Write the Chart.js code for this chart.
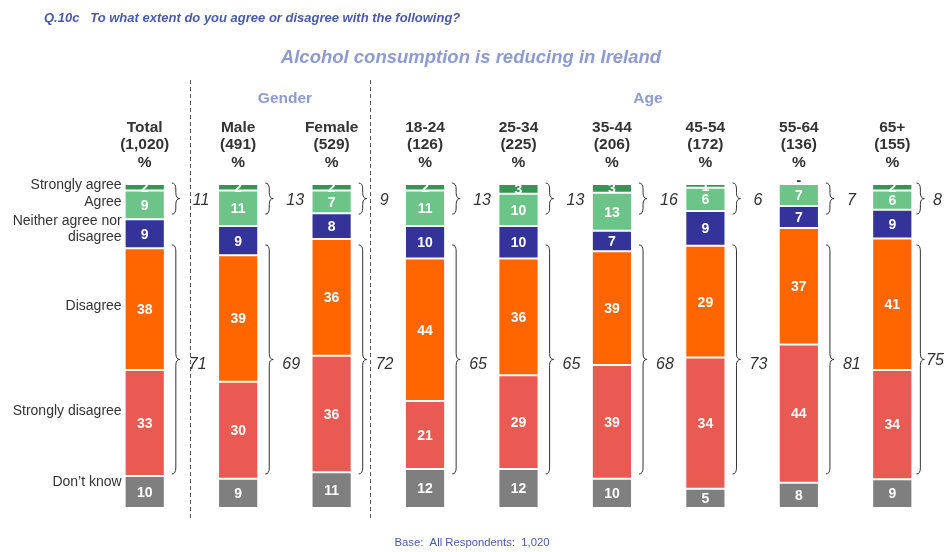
<!DOCTYPE html>
<html>
<head>
<meta charset="utf-8">
<script src="https://cdn.jsdelivr.net/npm/chart.js@4/dist/chart.umd.min.js"></script>
<style>
  html, body { margin: 0; padding: 0; background: #fff; }
  #wrap { width: 948px; height: 552px; position: relative; }
</style>
</head>
<body>
<div id="wrap"><canvas id="chart" width="948" height="552"></canvas></div>
<script>
// ===== DATA =====
const categories = ['Total', 'Male', 'Female', '18-24', '25-34', '35-44', '45-54', '55-64', '65+'];
const bases = ['(1,020)', '(491)', '(529)', '(126)', '(225)', '(206)', '(172)', '(136)', '(155)'];

const stronglyAgree    = [2, 2, 2, 2, 3, 3, 1, 0, 2];
const agree            = [9, 11, 7, 11, 10, 13, 6, 7, 6];
const neither          = [9, 9, 8, 10, 10, 7, 9, 7, 9];
const disagree         = [38, 39, 36, 44, 36, 39, 29, 37, 41];
const stronglyDisagree = [33, 30, 36, 21, 29, 39, 34, 44, 34];
const dontKnow         = [10, 9, 11, 12, 12, 10, 5, 8, 9];

const agreeNet    = [11, 13, 9, 13, 13, 16, 6, 7, 8];
const disagreeNet = [71, 69, 72, 65, 65, 68, 73, 81, 75];

const rowLabels = ['Don\u2019t know', 'Strongly disagree', 'Disagree', 'Neither agree nor\ndisagree', 'Agree', 'Strongly agree'];

const FONT = '"Liberation Sans", Arial, sans-serif';
const TEXT = '#333333';

// bars are drawn as 100% stacks, labels keep the raw figures
const series = [dontKnow, stronglyDisagree, disagree, neither, agree, stronglyAgree];
const totals = categories.map((_, i) => series.reduce((s, arr) => s + arr[i], 0));
const share = arr => arr.map((v, i) => v / totals[i] * 100);

const colors = ['#7f7f7f', '#e85a52', '#ff6600', '#333399', '#6cc489', '#3a9355'];

// ===== PLUGINS =====
function brace(ctx, x, y0, y1, w) {
  const mid = (y0 + y1) / 2;
  const r = Math.min(6, (y1 - y0) / 4);
  ctx.beginPath();
  ctx.moveTo(x, y0);
  ctx.quadraticCurveTo(x + w / 2, y0, x + w / 2, y0 + r);
  ctx.lineTo(x + w / 2, mid - r);
  ctx.quadraticCurveTo(x + w / 2, mid, x + w, mid);
  ctx.quadraticCurveTo(x + w / 2, mid, x + w / 2, mid + r);
  ctx.lineTo(x + w / 2, y1 - r);
  ctx.quadraticCurveTo(x + w / 2, y1, x, y1);
  ctx.stroke();
}

const decor = {
  id: 'decor',
  afterDatasetsDraw(chart) {
    const ctx = chart.ctx;
    const y = chart.scales.y;
    const W = chart.width;
    ctx.save();

    // segment labels
    ctx.textAlign = 'center';
    ctx.textBaseline = 'middle';
    ctx.font = 'bold 14px ' + FONT;
    chart.data.datasets.forEach((ds, di) => {
      const meta = chart.getDatasetMeta(di);
      meta.data.forEach((bar, i) => {
        const raw = series[di][i];
        const cy = (bar.y + bar.base) / 2;
        if (raw === 0) {
          ctx.fillStyle = TEXT;
          ctx.fillText('-', bar.x, bar.y - 3);
        } else {
          ctx.fillStyle = '#ffffff';
          ctx.fillText(String(raw), bar.x, cy + 1);
        }
      });
    });

    // row labels next to the Total bar
    ctx.textAlign = 'right';
    ctx.font = '14px ' + FONT;
    ctx.fillStyle = TEXT;
    const nudge = [-10, -12, -3, -5, -3, -2];
    rowLabels.forEach((lab, di) => {
      const bar = chart.getDatasetMeta(di).data[0];
      const cy = (bar.y + bar.base) / 2 + nudge[di];
      const lines = lab.split('\n');
      lines.forEach((ln, k) => {
        ctx.fillText(ln, bar.x - bar.width / 2 - 3, cy + (k - (lines.length - 1) / 2) * 16);
      });
    });

    // column headers
    ctx.textAlign = 'center';
    ctx.font = 'bold 15.5px ' + FONT;
    const first = chart.getDatasetMeta(0).data;
    first.forEach((bar, i) => {
      ctx.fillText(categories[i], bar.x, 128);
      ctx.fillText(bases[i], bar.x, 145);
      ctx.fillText('%', bar.x, 163);
    });

    // braces and net figures
    ctx.strokeStyle = '#333';
    ctx.lineWidth = 1;
    ctx.textAlign = 'left';
    ctx.font = 'italic 16px ' + FONT;
    first.forEach((bar, i) => {
      const right = bar.x + bar.width / 2;
      const bx = right + (i === first.length - 1 ? 4 : 7);
      brace(ctx, bx, y.getPixelForValue(100.3), y.getPixelForValue(90.7), 8);
      brace(ctx, bx, y.getPixelForValue(81.2), y.getPixelForValue(10.5), 8);
      let t = String(agreeNet[i]);
      let tx = Math.min(right + 28, W - ctx.measureText(t).width - 6);
      ctx.fillText(t, tx, y.getPixelForValue(94.9));
      t = String(disagreeNet[i]);
      tx = Math.min(right + 24, W - ctx.measureText(t).width - 4);
      ctx.fillText(t, tx, y.getPixelForValue(44.3) - (tx < right + 24 ? 4 : 0));
    });

    // dashed separators
    ctx.setLineDash([4, 3]);
    ctx.strokeStyle = '#555';
    [190.5, 370.5].forEach(x => {
      ctx.beginPath();
      ctx.moveTo(x, 80);
      ctx.lineTo(x, 520);
      ctx.stroke();
    });
    ctx.setLineDash([]);

    // titles
    ctx.textAlign = 'left';
    ctx.fillStyle = '#4a5ba8';
    ctx.font = 'bold italic 13px ' + FONT;
    ctx.fillText('Q.10c   To what extent do you agree or disagree with the following?', 44, 18);

    ctx.textAlign = 'center';
    ctx.fillStyle = '#8e9bd2';
    ctx.font = 'bold italic 18.5px ' + FONT;
    ctx.fillText('Alcohol consumption is reducing in Ireland', 471, 58);

    ctx.font = 'bold 15.5px ' + FONT;
    ctx.fillText('Gender', 285, 99);
    ctx.fillText('Age', 648, 99);

    ctx.fillStyle = '#4a5ba8';
    ctx.font = '11.3px ' + FONT;
    ctx.fillText('Base:  All Respondents:  1,020', 472, 543);

    ctx.restore();
  }
};

// ===== CHART =====
new Chart(document.getElementById('chart'), {
  type: 'bar',
  data: {
    labels: categories,
    datasets: series.map((arr, di) => ({
      label: rowLabels[di],
      data: share(arr),
      backgroundColor: colors[di],
      borderColor: 'rgba(255,255,255,0.75)',
      borderWidth: 1,
      borderSkipped: false,
      categoryPercentage: 1,
      barPercentage: 0.43,
    })),
  },
  options: {
    responsive: false,
    animation: false,
    layout: { padding: { left: 98, right: 9, top: 184, bottom: 44 } },
    plugins: {
      legend: { display: false },
      tooltip: { enabled: false },
    },
    scales: {
      x: { stacked: true, display: false },
      y: { stacked: true, display: false, min: 0, max: 100 },
    },
  },
  plugins: [decor],
});
</script>
</body>
</html>
